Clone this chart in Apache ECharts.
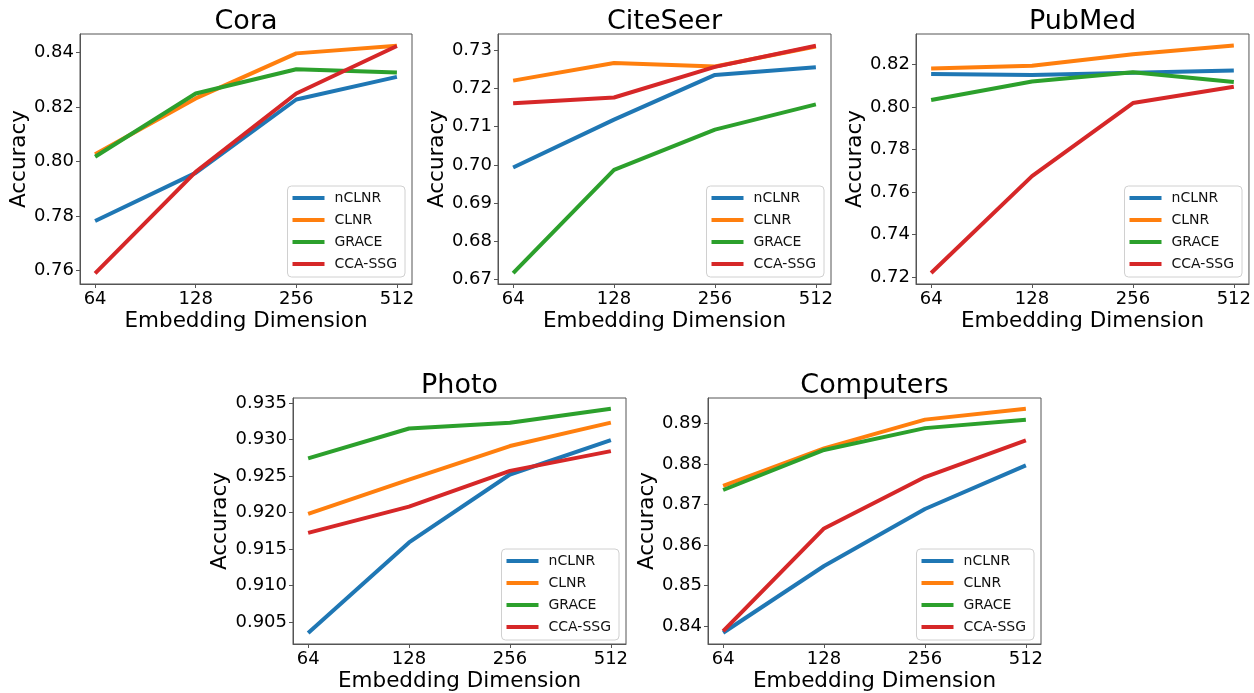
<!DOCTYPE html>
<html>
<head>
<meta charset="utf-8">
<script src="https://cdn.jsdelivr.net/npm/echarts@6/dist/echarts.min.js"></script>
<style>
html,body{margin:0;padding:0;background:#fff;}
#chart{width:1254px;height:693px;}
</style>
</head>
<body>
<div id="chart"></div>
<script>
// ---------- data ----------
const dims = ['64', '128', '256', '512'];
const methods = ['nCLNR', 'CLNR', 'GRACE', 'CCA-SSG'];
const colors = ['#1f77b4', '#ff7f0e', '#2ca02c', '#d62728'];

const coraNCLNR = [0.7782, 0.7958, 0.8227, 0.8310];
const coraCLNR  = [0.8026, 0.8231, 0.8396, 0.8424];
const coraGRACE = [0.8017, 0.8249, 0.8338, 0.8326];
const coraCCA   = [0.7590, 0.7962, 0.8249, 0.8423];
const coraTicks = [0.76, 0.78, 0.80, 0.82, 0.84];

const citeNCLNR = [0.6993, 0.7118, 0.7235, 0.7255];
const citeCLNR  = [0.7220, 0.7266, 0.7257, 0.7309];
const citeGRACE = [0.6717, 0.6987, 0.7092, 0.7158];
const citeCCA   = [0.7161, 0.7176, 0.7256, 0.7311];
const citeTicks = [0.67, 0.68, 0.69, 0.70, 0.71, 0.72, 0.73];

const pubNCLNR = [0.8156, 0.8151, 0.8161, 0.8172];
const pubCLNR  = [0.8181, 0.8194, 0.8249, 0.8290];
const pubGRACE = [0.8033, 0.8120, 0.8164, 0.8118];
const pubCCA   = [0.7219, 0.7675, 0.8019, 0.8096];
const pubTicks = [0.72, 0.74, 0.76, 0.78, 0.80, 0.82];

const photoNCLNR = [0.9035, 0.9159, 0.9252, 0.9299];
const photoCLNR  = [0.9198, 0.9245, 0.9291, 0.9323];
const photoGRACE = [0.9274, 0.9315, 0.9323, 0.9342];
const photoCCA   = [0.9172, 0.9208, 0.9257, 0.9284];
const photoTicks = [0.905, 0.910, 0.915, 0.920, 0.925, 0.930, 0.935];

const compNCLNR = [0.8383, 0.8548, 0.8689, 0.8797];
const compCLNR  = [0.8746, 0.8839, 0.8910, 0.8937];
const compGRACE = [0.8736, 0.8835, 0.8889, 0.8910];
const compCCA   = [0.8387, 0.8641, 0.8768, 0.8859];
const compTicks = [0.84, 0.85, 0.86, 0.87, 0.88, 0.89];

// ---------- panels ----------
const FONT = 'DejaVu Sans';
const panels = [
  {title: 'Cora', series: [coraNCLNR, coraCLNR, coraGRACE, coraCCA], ticks: coraTicks, dec: 2,
   min: 0.7551, max: 0.8467, left: 80, top: 34, width: 332, height: 250},
  {title: 'CiteSeer', series: [citeNCLNR, citeCLNR, citeGRACE, citeCCA], ticks: citeTicks, dec: 2,
   min: 0.66887, max: 0.73418, left: 498, top: 34, width: 333, height: 250},
  {title: 'PubMed', series: [pubNCLNR, pubCLNR, pubGRACE, pubCCA], ticks: pubTicks, dec: 2,
   min: 0.7167, max: 0.8344, left: 916, top: 34, width: 333, height: 250},
  {title: 'Photo', series: [photoNCLNR, photoCLNR, photoGRACE, photoCCA], ticks: photoTicks, dec: 3,
   min: 0.90198, max: 0.93568, left: 293, top: 398, width: 333, height: 249},
  {title: 'Computers', series: [compNCLNR, compCLNR, compGRACE, compCCA], ticks: compTicks, dec: 2,
   min: 0.83552, max: 0.89635, left: 708, top: 398, width: 333, height: 249}
];

const grid = [], xAxis = [], yAxis = [], series = [], legend = [], graphic = [];
const frameColor = '#555';

panels.forEach((p, i) => {
  grid.push({left: p.left, top: p.top, width: p.width, height: p.height,
    show: true, borderColor: frameColor, borderWidth: 1, backgroundColor: 'transparent'});
  xAxis.push({
    type: 'value', gridIndex: i, min: -0.15, max: 3.15,
    name: 'Embedding Dimension', nameLocation: 'middle', nameGap: 26,
    nameTextStyle: {fontFamily: FONT, fontSize: 21.5, color: '#000'},
    axisLine: {show: true, onZero: false, lineStyle: {color: frameColor, width: 1}},
    axisTick: {show: true, length: 4, lineStyle: {color: frameColor}, customValues: [0, 1, 2, 3]},
    axisLabel: {fontFamily: FONT, fontSize: 18, color: '#000', margin: 6,
      customValues: [0, 1, 2, 3], formatter: v => dims[Math.round(v)]},
    splitLine: {show: false}
  });
  yAxis.push({
    type: 'value', gridIndex: i, min: p.min, max: p.max,
    name: 'Accuracy', nameLocation: 'middle', nameGap: p.dec === 3 ? 61 : 48,
    nameTextStyle: {fontFamily: FONT, fontSize: 21.5, color: '#000'},
    axisLine: {show: true, onZero: false, lineStyle: {color: frameColor, width: 1}},
    axisTick: {show: true, length: 4, lineStyle: {color: frameColor}, customValues: p.ticks},
    axisLabel: {fontFamily: FONT, fontSize: 18, color: '#000', margin: 6,
      customValues: p.ticks, formatter: v => v.toFixed(p.dec)},
    splitLine: {show: false}
  });
  p.series.forEach((vals, k) => {
    series.push({
      type: 'line', name: methods[k], xAxisIndex: i, yAxisIndex: i,
      data: vals.map((v, j) => [j, v]),
      showSymbol: false, symbol: 'none', color: colors[k],
      lineStyle: {width: 4, color: colors[k], join: 'round'},
      emphasis: {disabled: true}, silent: true, animation: false
    });
  });
  legend.push({
    orient: 'vertical',
    right: 1254 - (p.left + p.width) + 7,
    bottom: 693 - (p.top + p.height) + 7,
    data: methods, icon: 'rect', itemWidth: 32, itemHeight: 4, itemGap: 6,
    padding: [4, 8, 5, 5],
    backgroundColor: 'rgba(255,255,255,0.8)', borderColor: '#d0d0d0', borderWidth: 1, borderRadius: 4,
    textStyle: {fontFamily: FONT, fontSize: 14, color: '#111', lineHeight: 16, padding: [0, 0, 0, 5]},
    selectedMode: false
  });
  graphic.push({
    type: 'text', x: p.left + p.width / 2, y: p.top - 12,
    style: {text: p.title, fontFamily: FONT, fontSize: 27, fill: '#000', align: 'center', verticalAlign: 'middle'}
  });
});

const chart = echarts.init(document.getElementById('chart'), null, {renderer: 'canvas'});
chart.setOption({
  animation: false,
  backgroundColor: '#fff',
  grid, xAxis, yAxis, series, legend, graphic
});
</script>
</body>
</html>
